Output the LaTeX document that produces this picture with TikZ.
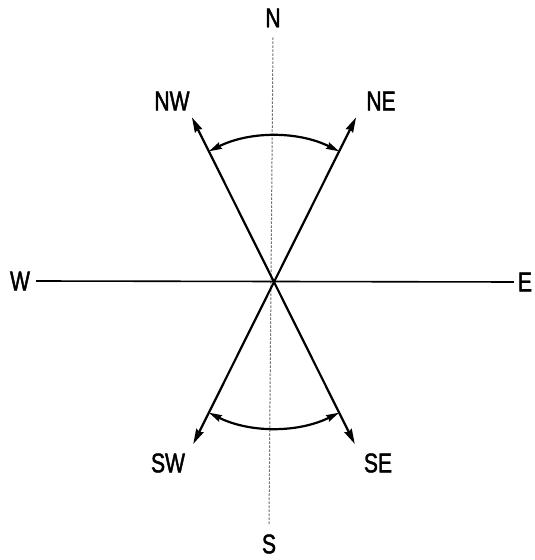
\documentclass[tikz,border=0pt]{standalone}
\usepackage{fontspec}
\setmainfont[FakeStretch=0.78,FakeBold=1.6]{Liberation Sans}
\usetikzlibrary{arrows.meta,calc}
\begin{document}
\begin{tikzpicture}[x=1pt,y=1pt,
  lbl/.style={font=\fontsize{27}{27}\selectfont, inner sep=3pt},
  dir/.style={line width=2.2pt, -{Stealth[length=15pt,width=8pt,inset=1.5pt]}},
  sweep/.style={line width=2.2pt, {Stealth[length=13pt,width=7pt,inset=1.5pt]}-{Stealth[length=13pt,width=7pt,inset=1.5pt]}},
  axisline/.style={line width=1.6pt},
  centerline/.style={line width=1pt, black!55, dash pattern=on 2.5pt off 1.5pt}]
\useasboundingbox (0,0) rectangle (535,560);
\coordinate (O) at (274,278);
\coordinate (NEtip) at ($(O)+(63.5:184)$);
\coordinate (NWtip) at ($(O)+(116.5:184)$);
\coordinate (SWtip) at ($(O)+(243.5:181)$);
\coordinate (SEtip) at ($(O)+(296.5:181)$);
\node[lbl] (N) at (273,542) {N};
\node[lbl] (S) at (269,16) {S};
\node[lbl] (W) at (20,279) {W};
\node[lbl] (E) at (525,278) {E};
\node[lbl] (NW) at (172,459) {NW};
\node[lbl] (NE) at (381,459) {NE};
\node[lbl] (SW) at (168,97) {SW};
\node[lbl] (SE) at (378,97) {SE};
% axes
\draw[centerline] ([yshift=-7pt]N.south) -- ([yshift=7pt]S.north);
\draw[axisline] ([xshift=3pt]W.east) -- ([xshift=-1pt]E.west);
% direction arrows
\draw[dir] (O) -- (NEtip);
\draw[dir] (O) -- (NWtip);
\draw[dir] (O) -- (SWtip);
\draw[dir] (O) -- (SEtip);
% sweep arcs
\draw[sweep] ($(O)+(63.5:146)$) arc[start angle=63.5, end angle=116.5, radius=146];
\draw[sweep] ($(O)+(243.5:146)$) arc[start angle=243.5, end angle=296.5, radius=146];
\end{tikzpicture}
\end{document}
